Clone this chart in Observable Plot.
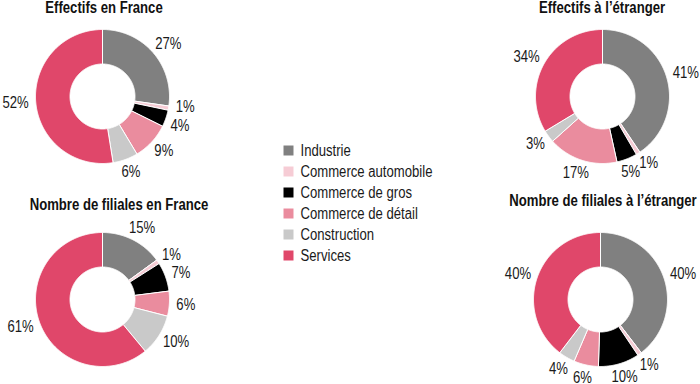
<!DOCTYPE html>
<html>
<head>
<meta charset="utf-8">
<script src="https://cdn.jsdelivr.net/npm/d3@7"></script>
<script src="https://cdn.jsdelivr.net/npm/@observablehq/plot@0.6"></script>
<style>
  body { margin: 0; background: #fff; }
  #root { position: relative; width: 700px; height: 384px; overflow: hidden;
          font-family: "Liberation Sans", Arial, sans-serif; color: #111; }
  .title { position: absolute; font-weight: bold; font-size: 16px; line-height: 16px; white-space: nowrap;
           transform: translateX(-50%) scaleX(0.82); }
  .panel { position: absolute; }
  .panel svg { overflow: visible; max-width: none; display: block; }
</style>
</head>
<body>
<div id="root"></div>
<script>
// ---- data ----
const categories = ["Industrie", "Commerce automobile", "Commerce de gros", "Commerce de détail", "Construction", "Services"];
const colors = ["#808080", "#f6ccd5", "#000000", "#ea8c9e", "#c9c9c9", "#e0476a"];
const titles = ["Effectifs en France", "Effectifs à l’étranger", "Nombre de filiales en France", "Nombre de filiales à l’étranger"];
const effectifsFrance = [27, 1, 4, 9, 6, 52];
const effectifsEtranger = [41, 1, 5, 17, 3, 34];
const filialesFrance = [15, 1, 7, 6, 10, 61];
const filialesEtranger = [40, 1, 10, 6, 4, 40];

// ---- layout ----
const R = 67, r0 = 32.5, RG = 74, HH = 6, MIN_GAP = 20, NARROW = 0.82, FS = 16;
const PW = 240, PH = 200;
const panels = [
  {values: effectifsFrance, title: titles[0], cx: 101.5, cy: 96, tx: 103.5, tb: 13},
  {values: effectifsEtranger, title: titles[1], cx: 602, cy: 96, tx: 601.5, tb: 13},
  {values: filialesFrance, title: titles[2], cx: 101.5, cy: 299, tx: 118.8, tb: 210},
  {values: filialesEtranger, title: titles[3], cx: 600, cy: 299, tx: 602.8, tb: 206}
];

const root = document.getElementById("root");
const color = {domain: categories, range: colors};

// condense SVG text horizontally (Arial Narrow-like look)
function narrow(svg) {
  svg.querySelectorAll("text").forEach(t => {
    const tr = t.getAttribute("transform") || "";
    t.setAttribute("transform", (tr + ` scale(${NARROW},1)`).trim());
  });
  return svg;
}

// approximate half width of a label (Arial metrics, condensed)
const halfWidth = s => d3.sum([...s], ch => (ch === "%" ? 0.889 : 0.556) * FS * NARROW) / 2;

function donut(values) {
  const data = categories.map((c, i) => ({category: c, value: values[i]}));
  const arcs = d3.pie().sort(null).value(d => d.value)(data);
  const pts = [];
  for (const a of arcs) {
    const n = Math.max(2, Math.ceil((a.endAngle - a.startAngle) / 0.01));
    const c = a.data.category;
    const ring = [];
    for (let k = 0; k <= n; k++) {
      const t = a.startAngle + (a.endAngle - a.startAngle) * k / n;
      ring.push({category: c, x: R * Math.sin(t), y: R * Math.cos(t)});
    }
    for (let k = n; k >= 0; k--) {
      const t = a.startAngle + (a.endAngle - a.startAngle) * k / n;
      ring.push({category: c, x: r0 * Math.sin(t), y: r0 * Math.cos(t)});
    }
    ring.push(ring[0]);
    pts.push(...ring);
  }
  // labels just outside the ring at slice middles (box edge facing the ring), relaxed apart when too close
  const texts = arcs.map(a => a.data.value + "%");
  const ang = arcs.map(a => (a.startAngle + a.endAngle) / 2);
  const pos = (t, s) => [Math.sin(t) * (RG + halfWidth(s)), Math.cos(t) * (RG + HH)];
  for (let it = 0; it < 400; it++) {
    let moved = false;
    for (let i = 0; i < ang.length - 1; i++) {
      const [x1, y1] = pos(ang[i], texts[i]), [x2, y2] = pos(ang[i + 1], texts[i + 1]);
      if (Math.hypot(x2 - x1, y2 - y1) < MIN_GAP) { ang[i] -= 0.002; ang[i + 1] += 0.002; moved = true; }
    }
    if (!moved) break;
  }
  const labels = texts.map((s, i) => ({text: s, x: pos(ang[i], s)[0], y: pos(ang[i], s)[1]}));
  return narrow(Plot.plot({
    width: PW, height: PH, margin: 0,
    x: {domain: [-PW / 2, PW / 2], axis: null},
    y: {domain: [-PH / 2, PH / 2], axis: null},
    color,
    style: {fontFamily: "inherit", background: "transparent"},
    marks: [
      Plot.line(pts, {x: "x", y: "y", z: "category", fill: "category", stroke: "white", strokeWidth: 1, curve: "linear"}),
      Plot.text(labels, {x: "x", y: "y", text: "text", fontSize: FS, fill: "#1a1a1a"})
    ]
  }));
}

for (const p of panels) {
  const div = document.createElement("div");
  div.className = "panel";
  div.style.left = (p.cx - PW / 2) + "px";
  div.style.top = (p.cy - PH / 2) + "px";
  div.style.width = PW + "px";
  div.style.height = PH + "px";
  div.appendChild(donut(p.values));
  root.appendChild(div);
  const t = document.createElement("div");
  t.className = "title";
  t.textContent = p.title;
  t.style.left = p.tx + "px";
  t.style.top = (p.tb - 13.5) + "px";
  root.appendChild(t);
}

// ---- legend ----
const legend = narrow(Plot.plot({
  width: 200, height: 140, margin: 0, marginTop: 20, marginBottom: 15,
  x: {axis: null},
  y: {type: "point", domain: categories, axis: null, padding: 0},
  color,
  style: {fontFamily: "inherit", background: "transparent"},
  marks: [
    Plot.dot(categories, {y: d => d, fill: d => d, symbol: "square", r: 10 / Math.sqrt(Math.PI), frameAnchor: "left", dx: 18, stroke: null}),
    Plot.text(categories, {y: d => d, text: d => d, frameAnchor: "left", dx: 30, textAnchor: "start", fontSize: FS, fill: "#1a1a1a"})
  ]
}));
const ld = document.createElement("div");
ld.className = "panel";
ld.style.left = "270px";
ld.style.top = "130px";
ld.style.width = "200px";
ld.style.height = "140px";
ld.appendChild(legend);
root.appendChild(ld);
</script>
</body>
</html>
